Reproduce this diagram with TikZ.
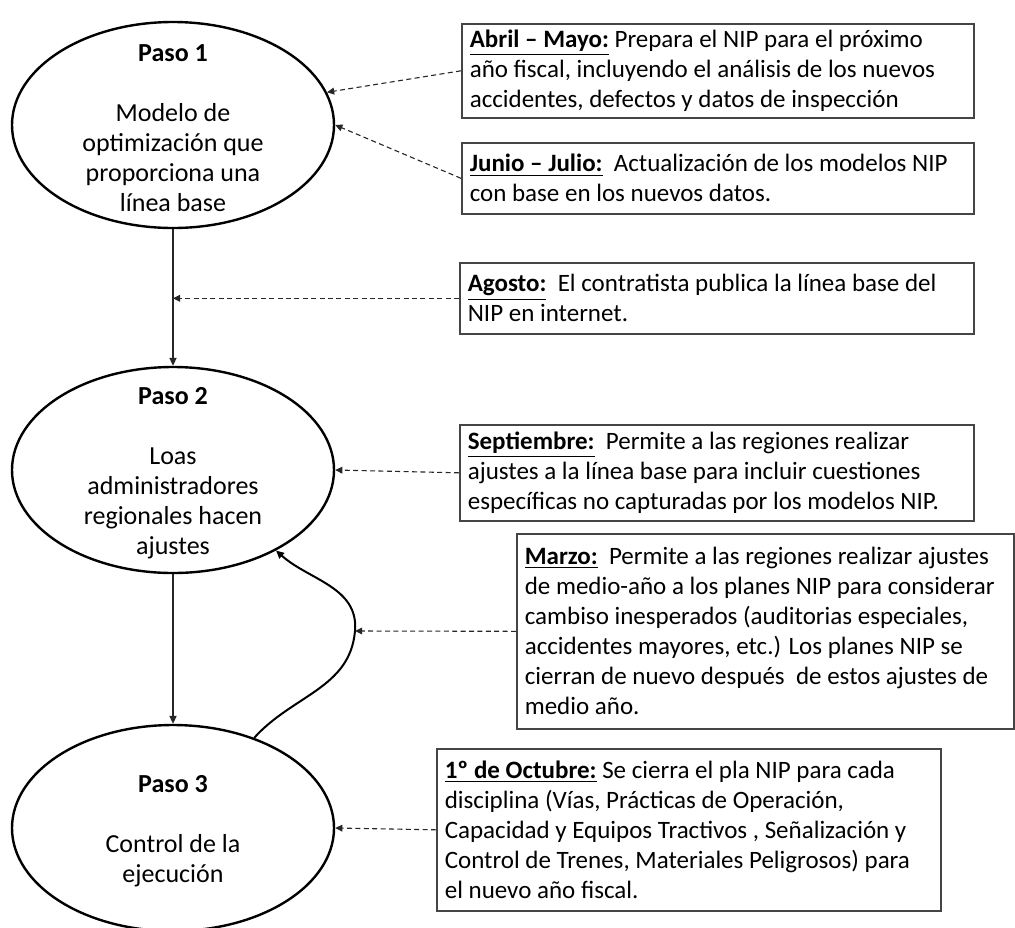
\documentclass[tikz,border=0pt]{standalone}
\usepackage{fontspec}
\setmainfont{Carlito}
\usetikzlibrary{arrows.meta,shapes.geometric}
\definecolor{cLine}{HTML}{262626}
\definecolor{cBox} {HTML}{454545}
\tikzset{
  paso/.style   ={ellipse,draw=black,line width=1.2pt,minimum width=161pt,
                  minimum height=103pt,inner sep=0pt},
  pasotxt/.style={align=center,yshift=-1.5pt,font=\fontsize{13}{15}\selectfont},
  evt/.style    ={draw=cBox,line width=0.8pt,anchor=north west,align=flush left,
                  inner xsep=4pt,inner ysep=0pt,font=\fontsize{12.5}{15}\selectfont},
  flow/.style   ={-{Triangle[length=4pt,width=3.6pt]},draw=cLine,line width=0.6pt},
  retorno/.style={-{Triangle[length=4pt,width=3.6pt]},draw=black,line width=1pt},
  dsh/.style    ={-{Triangle[length=3.6pt,width=3.4pt]},draw=cLine,line width=0.55pt,
                  dash pattern=on 2.5pt off 1.7pt},
}
\newcommand{\mes}[1]{\underline{\textbf{#1}}}

\begin{document}
\begin{tikzpicture}[x=0.5pt, y=0.5pt, font=\fontsize{12.5}{15}\selectfont]
\useasboundingbox (0,0) rectangle (1015,-927);

% pasos
\node[paso] (p1) at (173,-125) {};
\node[pasotxt] (t1) at (p1) {\textbf{Paso 1}\\[15pt] Modelo de\\ optimización que\\
  proporciona una\\ línea base};
\node[paso] (p2) at (173,-470) {};
\node[pasotxt] (t2) at (p2) {\textbf{Paso 2}\\[15pt] Loas\\ administradores\\
  regionales hacen\\ ajustes};
\node[paso] (p3) at (173,-828) {};
\node[pasotxt] (t3) at (p3) {\textbf{Paso 3}\\[15pt] Control de la\\ ejecución};

% calendario
\node[evt,text width=248pt,minimum height=47pt] (ab) at (461,-23)
  {\mes{Abril – Mayo:} Prepara el NIP para el próximo\\
   año fiscal, incluyendo el análisis de los nuevos\\
   accidentes, defectos y datos de inspección};
\node[evt,text width=248pt,minimum height=35.5pt] (ju) at (461,-142)
  {\mes{Junio – Julio:}\ \ Actualización de los modelos NIP\\
   con base en los nuevos datos.};
\node[evt,text width=249pt,minimum height=35.5pt] (ag) at (459,-262)
  {\mes{Agosto:}\ \ El contratista publica la línea base del\\
   NIP en internet.};
\node[evt,text width=249pt,minimum height=48pt] (se) at (459,-424)
  {\mes{Septiembre:}\ \ Permite a las regiones realizar\\
   ajustes a la línea base para incluir cuestiones\\
   específicas no capturadas por los modelos NIP.};
\node[evt,text width=240.5pt,minimum height=97.5pt] (mz) at (516,-533)
  {\mes{Marzo:}\ \ Permite a las regiones realizar ajustes\\
   de medio-año a los planes NIP para considerar\\
   cambiso inesperados (auditorias especiales,\\
   accidentes mayores, etc.) Los planes NIP se\\
   cierran de nuevo después\ \ de estos ajustes de\\
   medio año.};
\node[evt,text width=244pt,minimum height=81pt] (oc) at (436,-748)
  {\mes{1º de Octubre:} Se cierra el pla NIP para cada\\
   disciplina (Vías, Prácticas de Operación,\\
   Capacidad y Equipos Tractivos , Señalización y\\
   Control de Trenes, Materiales Peligrosos) para\\
   el nuevo año fiscal.};

% flujo principal
\draw[flow] (p1) -- (p2);
\draw[flow] (p2) -- (p3);
\coordinate (bend) at (355,-631);
\draw[retorno] (p3.48) to[out=48,in=-95] (bend) to[out=85,in=-42] (p2.-38);

% referencias
\draw[dsh] (ab.west) -- (p1.12);
\draw[dsh] (ju.west) -- (p1.east);
\draw[dsh] (ag.west) -- (p1.south |- ag.west);
\draw[dsh] (se.west) -- (p2.east);
\draw[dsh] (mz.west) -- (bend);
\draw[dsh] (oc.west) -- (p3.east);
\end{tikzpicture}
\end{document}
